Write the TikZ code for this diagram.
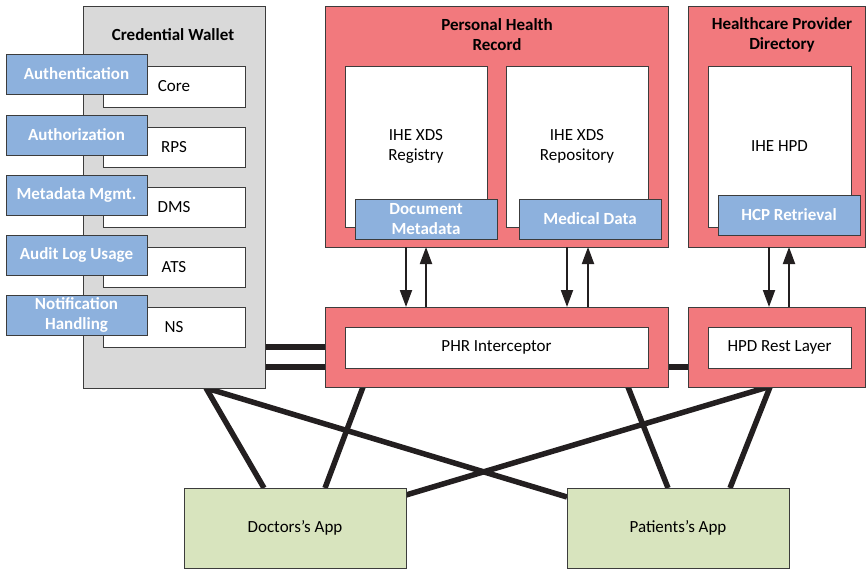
\documentclass[tikz,border=0pt]{standalone}
\usepackage{fontspec}
\setmainfont{Carlito}
\usetikzlibrary{arrows.meta,calc,backgrounds}
\definecolor{pinkc}{RGB}{242,121,125}
\definecolor{bluec}{RGB}{141,177,221}
\definecolor{greenc}{RGB}{216,228,190}
\definecolor{grayc}{RGB}{217,217,217}
\definecolor{edgec}{RGB}{60,60,60}
\definecolor{linec}{RGB}{35,31,32}
\newcommand\bx[7]{\node[#2, minimum width={(#5-#3)*1pt}, minimum height={(#6-#4)*1pt}] (#1) at ({(#3+#5)/2},{(#4+#6)/2}) {#7};}
\begin{document}
\begin{tikzpicture}[x=1pt,y=-1pt,
  every node/.style={font=\fontsize{17}{20}\selectfont, align=center, inner sep=0pt, outer sep=0pt},
  boxbase/.style={draw=edgec, line width=0.9pt},
  graybox/.style={boxbase, fill=grayc},
  pinkbox/.style={boxbase, fill=pinkc},
  whitebox/.style={boxbase, fill=white},
  bluebox/.style={boxbase, fill=bluec, text=white, font=\fontsize{17}{20}\selectfont\bfseries},
  greenbox/.style={boxbase, fill=greenc},
  titletext/.style={font=\fontsize{17}{20}\selectfont\bfseries},
  conn/.style={draw=linec, line width=5.5pt},
  arr/.style={draw=linec, line width=2pt, -{Triangle[length=17pt,width=12pt]}}]
\useasboundingbox (0,0) rectangle (866,569);
% Credential wallet
\bx{wallet}{graybox}{83}{6}{265}{388}{}
\node[titletext] (wtitle) at (173,35) {Credential Wallet};
\bx{core}{whitebox}{103}{66}{245}{107}{Core}
\bx{rps}{whitebox}{103}{127}{245}{167}{RPS}
\bx{dms}{whitebox}{103}{187}{245}{227}{DMS}
\bx{ats}{whitebox}{103}{247}{245}{287}{ATS}
\bx{ns}{whitebox}{103}{307}{245}{347}{NS}
\bx{authn}{bluebox}{6}{54}{147}{94}{Authentication}
\bx{authz}{bluebox}{6}{115}{147}{155}{Authorization}
\bx{meta}{bluebox}{6}{175}{147}{215}{Metadata Mgmt.}
\bx{audit}{bluebox}{6}{235}{147}{275}{Audit Log Usage}
\bx{notif}{bluebox}{6}{295}{147}{335}{Notification\\Handling}
% PHR
\bx{phr}{pinkbox}{325}{6}{668}{247}{}
\node[titletext] (phrtitle) at (497,35) {Personal Health\\Record};
\bx{reg}{whitebox}{345}{66}{487}{227}{IHE XDS\\Registry}
\bx{repo}{whitebox}{506}{66}{648}{227}{IHE XDS\\Repository}
\bx{docmeta}{bluebox}{355}{199}{497}{239}{Document\\Metadata}
\bx{meddata}{bluebox}{519}{199}{661}{239}{Medical Data}
% HPD
\bx{hpd}{pinkbox}{688}{6}{865}{247}{}
\node[titletext] (hpdtitle) at (782,35) {Healthcare Provider\\Directory};
\bx{ihehpd}{whitebox}{708}{66}{851}{227}{IHE HPD}
\bx{hcp}{bluebox}{718}{195}{860}{235}{HCP Retrieval}
% interceptors
\bx{phri}{pinkbox}{325}{307}{668}{387}{}
\bx{phrin}{whitebox}{345}{327}{648}{368}{PHR Interceptor}
\bx{hpdr}{pinkbox}{688}{307}{865}{387}{}
\bx{hpdrin}{whitebox}{708}{327}{851}{368}{HPD Rest Layer}
% apps
\bx{doc}{greenbox}{184}{488}{406}{568}{Doctors’s App}
\bx{pat}{greenbox}{567}{488}{789}{568}{Patients’s App}
% arrows
\draw[arr] ($(phr.south west)+(81,0)$) -- ($(phri.north west)+(81,0)$);
\draw[arr] ($(phri.north west)+(101,0)$) -- ($(phr.south west)+(101,0)$);
\draw[arr] ($(phr.south west)+(242,0)$) -- ($(phri.north west)+(242,0)$);
\draw[arr] ($(phri.north west)+(263,0)$) -- ($(phr.south west)+(263,0)$);
\draw[arr] ($(hpd.south west)+(81,0)$) -- ($(hpdr.north west)+(81,0)$);
\draw[arr] ($(hpdr.north west)+(101,0)$) -- ($(hpd.south west)+(101,0)$);
\begin{pgfonlayer}{background}
\draw[conn] (phri.west) -- (phri.west -| wallet.east);
\draw[conn] ($(phri.west)+(0,20)$) -- ($(phri.west -| wallet.east)+(0,20)$);
\draw[conn] ($(phri.east)+(0,20)$) -- ($(hpdr.west)+(0,20)$);
\draw[conn] ($(wallet.south west)+(123,0)$) -- ($(doc.north west)+(80,0)$);
\draw[conn] ($(wallet.south west)+(123,0)$) -- ($(pat.north west)+(0,9)$);
\draw[conn] ($(phri.south west)+(38,0)$) -- ($(doc.north west)+(141,0)$);
\draw[conn] ($(phri.south west)+(303,0)$) -- ($(pat.north west)+(101,0)$);
\draw[conn] ($(hpdr.south west)+(80,0)$) -- ($(doc.north east)+(0,7)$);
\draw[conn] ($(hpdr.south west)+(82,0)$) -- ($(pat.north west)+(163,0)$);
\end{pgfonlayer}
\end{tikzpicture}
\end{document}
